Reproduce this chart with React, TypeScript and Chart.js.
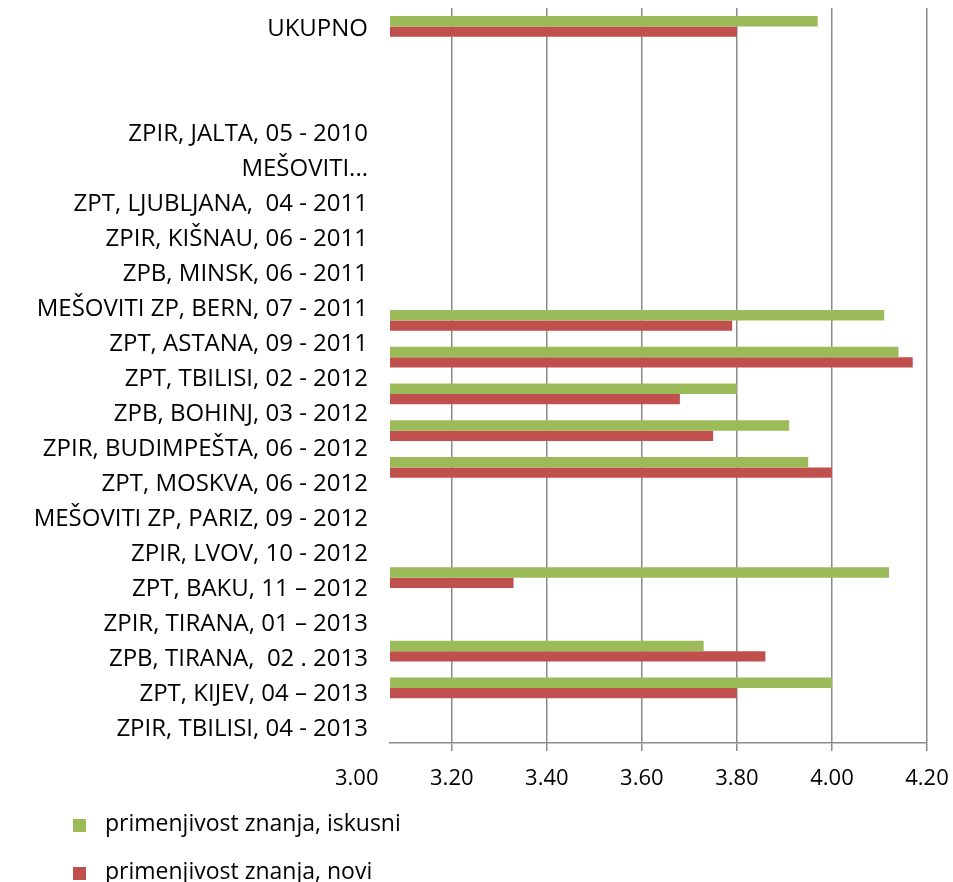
import React, { useEffect, useRef } from 'react';
import { Chart, registerables } from 'chart.js';

Chart.register(...registerables);

// Session names (top to bottom)
const sessions = [
  'ZPIR, JALTA, 05 - 2010',
  'MEŠOVITI...',
  'ZPT, LJUBLJANA,  04 - 2011',
  'ZPIR, KIŠNAU, 06 - 2011',
  'ZPB, MINSK, 06 - 2011',
  'MEŠOVITI ZP, BERN, 07 - 2011',
  'ZPT, ASTANA, 09 - 2011',
  'ZPT, TBILISI, 02 - 2012',
  'ZPB, BOHINJ, 03 - 2012',
  'ZPIR, BUDIMPEŠTA, 06 - 2012',
  'ZPT, MOSKVA, 06 - 2012',
  'MEŠOVITI ZP, PARIZ, 09 - 2012',
  'ZPIR, LVOV, 10 - 2012',
  'ZPT, BAKU, 11 – 2012',
  'ZPIR, TIRANA, 01 – 2013',
  'ZPB, TIRANA,  02 . 2013',
  'ZPT, KIJEV, 04 – 2013',
  'ZPIR, TBILISI, 04 - 2013',
];

// Bar categories (20 slots) and the category-axis tick labels (21 slots)
const categories = ['UKUPNO', '', ...sessions];
const axisLabels = ['UKUPNO', '', '', ...sessions];

const seriesNames = ['primenjivost znanja, iskusni', 'primenjivost znanja, novi'];
const seriesColors = ['#9BBB59', '#C0504D'];

const iskusni = [3.97, null, null, null, null, null, null, null, 4.11, 4.14, 3.80, 3.91, 3.95, null, null, 4.12, null, 3.73, 4.00, null];
const novi = [3.80, null, null, null, null, null, null, null, 3.79, 4.17, 3.68, 3.75, 4.00, null, null, 3.33, null, 3.86, 3.80, null];

// Value axis: bars start where the category axis crosses (3.07); tick labels 3.00 … 4.20
const AXIS_CROSS = 3.07;
const X_MAX = 4.2;
const xTickValues = [3.0, 3.2, 3.4, 3.6, 3.8, 4.0, 4.2];

const FONT = '"Open Sans", sans-serif';
const GRID = '#8a8a8a';

export default function App() {
  const ref = useRef<HTMLCanvasElement>(null);

  useEffect(() => {
    if (!ref.current) return;
    const chart = new Chart(ref.current, {
      type: 'bar',
      data: {
        labels: categories,
        datasets: [
          {
            label: seriesNames[0],
            data: iskusni,
            backgroundColor: seriesColors[0],
            categoryPercentage: 0.57,
            barPercentage: 1,
          } as any,
          {
            label: seriesNames[1],
            data: novi,
            backgroundColor: seriesColors[1],
            categoryPercentage: 0.57,
            barPercentage: 1,
          } as any,
        ],
      },
      options: {
        indexAxis: 'y',
        animation: false,
        responsive: false,
        maintainAspectRatio: false,
        layout: { padding: { left: 0, right: 26, top: 8, bottom: 79 } },
        plugins: { legend: { display: false }, tooltip: { enabled: false } },
        scales: {
          x: {
            type: 'linear',
            position: 'bottom',
            min: AXIS_CROSS,
            max: X_MAX,
            border: { display: true, color: GRID, width: 1.5 },
            grid: {
              color: (c: any) => (c.tick && Math.abs(c.tick.value - xTickValues[0]) < 1e-9 ? 'rgba(0,0,0,0)' : GRID),
              lineWidth: 1.5,
              drawTicks: true,
              tickLength: 8,
            },
            afterBuildTicks: (s: any) => {
              s.ticks = xTickValues.map((v) => ({ value: v }));
            },
            afterFit: (s: any) => {
              s.height = 60;
              s.paddingLeft = 0;
              s.paddingRight = 0;
            },
            ticks: {
              autoSkip: false,
              maxRotation: 0,
              padding: 15,
              color: '#000',
              font: { family: FONT, size: 22 },
              callback: (v: any) => Number(v).toFixed(2),
            },
          } as any,
          y: {
            type: 'category',
            display: false,
            offset: true,
          },
          yl: {
            type: 'category',
            axis: 'y',
            position: 'left',
            labels: axisLabels,
            offset: true,
            border: { display: false },
            grid: { display: false, drawTicks: false },
            ticks: {
              autoSkip: false,
              padding: 22,
              labelOffset: 4,
              color: '#000',
              font: { family: FONT, size: 24 },
            },
            afterFit: (s: any) => {
              s.width = 390;
              s.paddingTop = 0;
              s.paddingBottom = 0;
            },
          } as any,
        },
      },
    });
    return () => chart.destroy();
  }, []);

  return (
    <div style={{ position: 'fixed', left: 0, top: 0, width: 953, height: 882, background: '#fff', overflow: 'hidden' }}>
      <canvas ref={ref} width={953} height={882} style={{ display: 'block' }} />
      <div style={{ position: 'absolute', left: 73, top: 798, fontFamily: FONT, fontSize: 23, color: '#000' }}>
        {seriesNames.map((n, i) => (
          <div key={n} style={{ display: 'flex', alignItems: 'center', height: 48, whiteSpace: 'nowrap' }}>
            <span style={{ display: 'inline-block', width: 13, height: 13, marginTop: 6, background: seriesColors[i], marginRight: 19 }} />
            <span>{n}</span>
          </div>
        ))}
      </div>
    </div>
  );
}
